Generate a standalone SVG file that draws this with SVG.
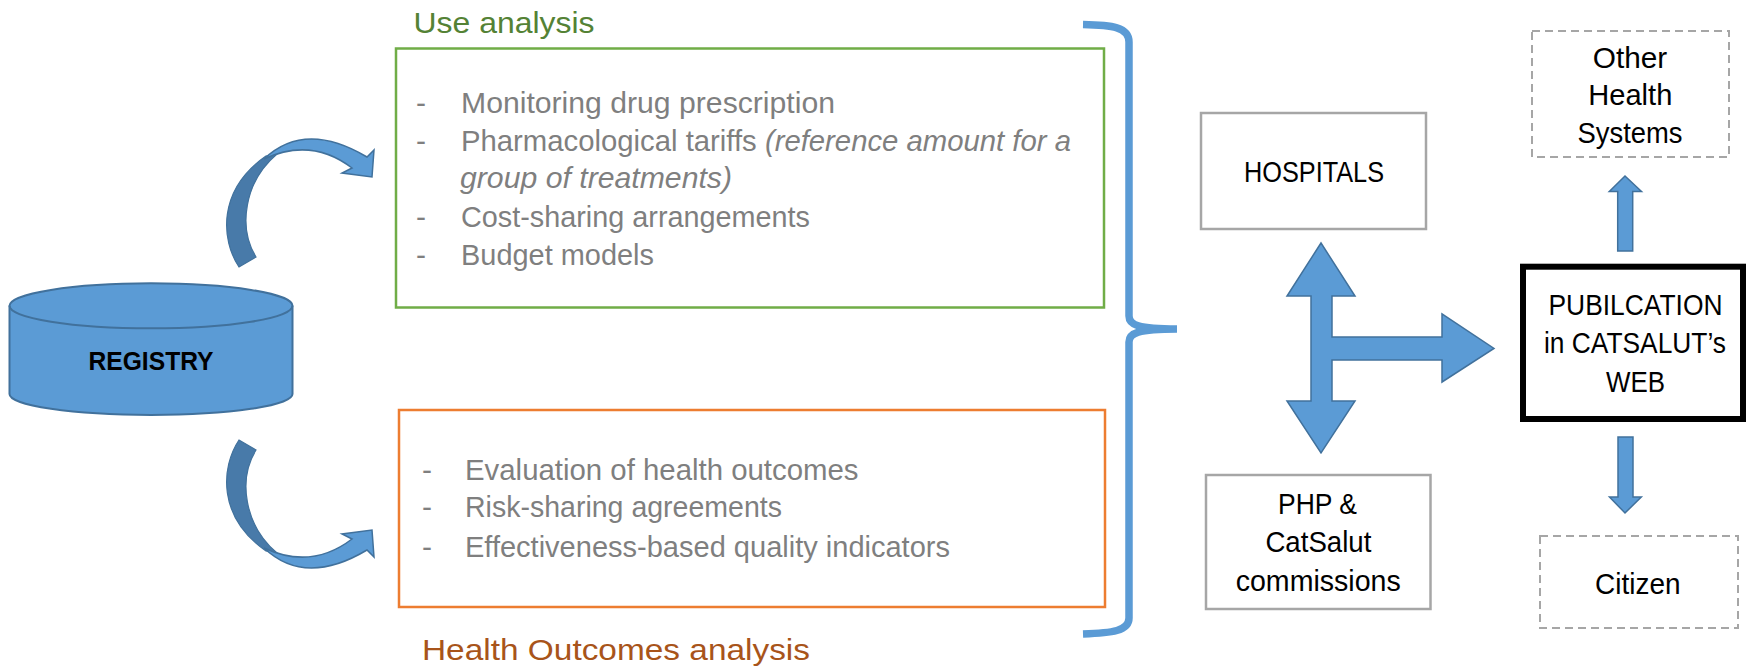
<svg xmlns="http://www.w3.org/2000/svg" width="1748" height="667" viewBox="0 0 1748 667">
<style>
text{font-family:"Liberation Sans",Arial,sans-serif;}
.gray{fill:#7f7f7f;font-size:30px;}
.lbl{fill:#000;font-size:30px;text-anchor:middle;}
.solidbox{fill:#fff;stroke:#a6a6a6;stroke-width:2.5;}
.dashbox{fill:#fff;stroke:#a6a6a6;stroke-width:2;stroke-dasharray:8 5;}
.blue{fill:#5b9bd5;stroke:#41719c;stroke-width:1.5;stroke-linejoin:miter;}
.dark{fill:#487aa9;stroke:#41719c;stroke-width:1.2;}
</style>
<defs>
<g id="curvedArrow">
<path class="dark" d="M239,267 C221,240 217,190 266,156 L277,154 C244,182 238,228 256,257 Z"/>
<path class="blue" d="M264,159 Q305,120 367,157 L374,150 L372,177 L342,173 L352,168 Q311.5,137 264,159 Z"/>
</g>
</defs>
<rect width="1748" height="667" fill="#fff"/>

<g id="registry">
<path d="M9.5,305.8 A141.5,22.5 0 0 1 292.5,305.8 L292.5,394 A141.5,21 0 0 1 9.5,394 Z" fill="#5b9bd5" stroke="#41719c" stroke-width="2"/>
<path d="M9.5,305.8 A141.5,22.5 0 0 0 292.5,305.8" fill="none" stroke="#41719c" stroke-width="2"/>
<text x="151" y="370" font-size="26" font-weight="bold" text-anchor="middle" textLength="125" lengthAdjust="spacingAndGlyphs" fill="#000">REGISTRY</text>
</g>

<g id="use-analysis">
<text x="413.5" y="33" font-size="30" fill="#548235" textLength="181" lengthAdjust="spacingAndGlyphs">Use analysis</text>
<rect x="396" y="48.5" width="708" height="259" fill="none" stroke="#70ad47" stroke-width="2.5"/>
<text class="gray" x="416" y="113.3">-</text>
<text class="gray" x="461" y="113.3" textLength="374" lengthAdjust="spacingAndGlyphs">Monitoring drug prescription</text>
<text class="gray" x="416" y="150.7">-</text>
<text class="gray" x="461" y="150.7" textLength="610" lengthAdjust="spacingAndGlyphs">Pharmacological tariffs <tspan font-style="italic">(reference amount for a</tspan></text>
<text class="gray" x="460" y="188.3" font-style="italic" textLength="272" lengthAdjust="spacingAndGlyphs">group of treatments)</text>
<text class="gray" x="416" y="226.7">-</text>
<text class="gray" x="461" y="226.7" textLength="349" lengthAdjust="spacingAndGlyphs">Cost-sharing arrangements</text>
<text class="gray" x="416" y="265">-</text>
<text class="gray" x="461" y="265" textLength="193" lengthAdjust="spacingAndGlyphs">Budget models</text>
</g>

<g id="health-outcomes-analysis">
<rect x="399" y="410" width="706" height="197" fill="none" stroke="#ed7d31" stroke-width="2.5"/>
<text class="gray" x="422" y="480">-</text>
<text class="gray" x="465" y="480" textLength="393.5" lengthAdjust="spacingAndGlyphs">Evaluation of health outcomes</text>
<text class="gray" x="422" y="517.3">-</text>
<text class="gray" x="465" y="517.3" textLength="317" lengthAdjust="spacingAndGlyphs">Risk-sharing agreements</text>
<text class="gray" x="422" y="556.7">-</text>
<text class="gray" x="465" y="556.7" textLength="485" lengthAdjust="spacingAndGlyphs">Effectiveness-based quality indicators</text>
<text x="422" y="660" font-size="30" fill="#a8541a" textLength="388" lengthAdjust="spacingAndGlyphs">Health Outcomes analysis</text>
</g>

<g id="hospitals">
<rect class="solidbox" x="1201" y="113" width="225" height="116"/>
<text class="lbl" x="1314" y="182" textLength="140" lengthAdjust="spacingAndGlyphs">HOSPITALS</text>
</g>

<g id="php-catsalut">
<rect class="solidbox" x="1206" y="475" width="224.5" height="134"/>
<text class="lbl" x="1317.5" y="513.6" textLength="79" lengthAdjust="spacingAndGlyphs">PHP &amp;</text>
<text class="lbl" x="1318.4" y="552.3" textLength="106" lengthAdjust="spacingAndGlyphs">CatSalut</text>
<text class="lbl" x="1318.2" y="590.6" textLength="165" lengthAdjust="spacingAndGlyphs">commissions</text>
</g>

<g id="publication">
<rect x="1523" y="266.7" width="220" height="152.3" fill="#fff" stroke="#000" stroke-width="6"/>
<text class="lbl" x="1635.5" y="315" textLength="174" lengthAdjust="spacingAndGlyphs">PUBILCATION</text>
<text class="lbl" x="1635" y="353.2" font-size="27" textLength="182" lengthAdjust="spacingAndGlyphs">in CATSALUT’s</text>
<text class="lbl" x="1635.5" y="391.5" textLength="59" lengthAdjust="spacingAndGlyphs">WEB</text>
</g>

<g id="other-health-systems">
<rect class="dashbox" x="1532" y="31" width="197" height="126"/>
<text class="lbl" x="1630" y="68" textLength="74.5" lengthAdjust="spacingAndGlyphs">Other</text>
<text class="lbl" x="1630.3" y="105" textLength="84" lengthAdjust="spacingAndGlyphs">Health</text>
<text class="lbl" x="1630" y="143.4" textLength="105" lengthAdjust="spacingAndGlyphs">Systems</text>
</g>

<g id="citizen">
<rect class="dashbox" x="1540" y="536" width="198" height="92"/>
<text class="lbl" x="1637.8" y="593.6" textLength="85.5" lengthAdjust="spacingAndGlyphs">Citizen</text>
</g>

<g id="connectors">
<use href="#curvedArrow"/>
<use href="#curvedArrow" transform="translate(0,707) scale(1,-1)"/>
<path d="M1083,24.5 C1112,25 1129,27 1129,42 L1129,316 C1129,325 1138,329 1177,329 M1177,329 C1138,329 1129,333 1129,342 L1129,618 C1129,631 1112,633 1083,634" fill="none" stroke="#5b9bd5" stroke-width="7.5"/>
<path class="blue" d="M1321,243 L1355,296 L1332,296 L1332,337 L1442,337 L1442,314 L1494,348.5 L1442,382 L1442,360 L1332,360 L1332,401 L1355,401 L1321,453 L1287,401 L1311,401 L1311,296 L1287,296 Z"/>
<path class="blue" d="M1625,176 L1641.5,191.5 L1632.7,191.5 L1632.7,251 L1617.7,251 L1617.7,191.5 L1609.3,191.5 Z"/>
<path class="blue" d="M1618,437 L1633,437 L1633,497 L1641.3,497 L1625,513 L1609.5,497 L1618,497 Z"/>
</g>
</svg>
